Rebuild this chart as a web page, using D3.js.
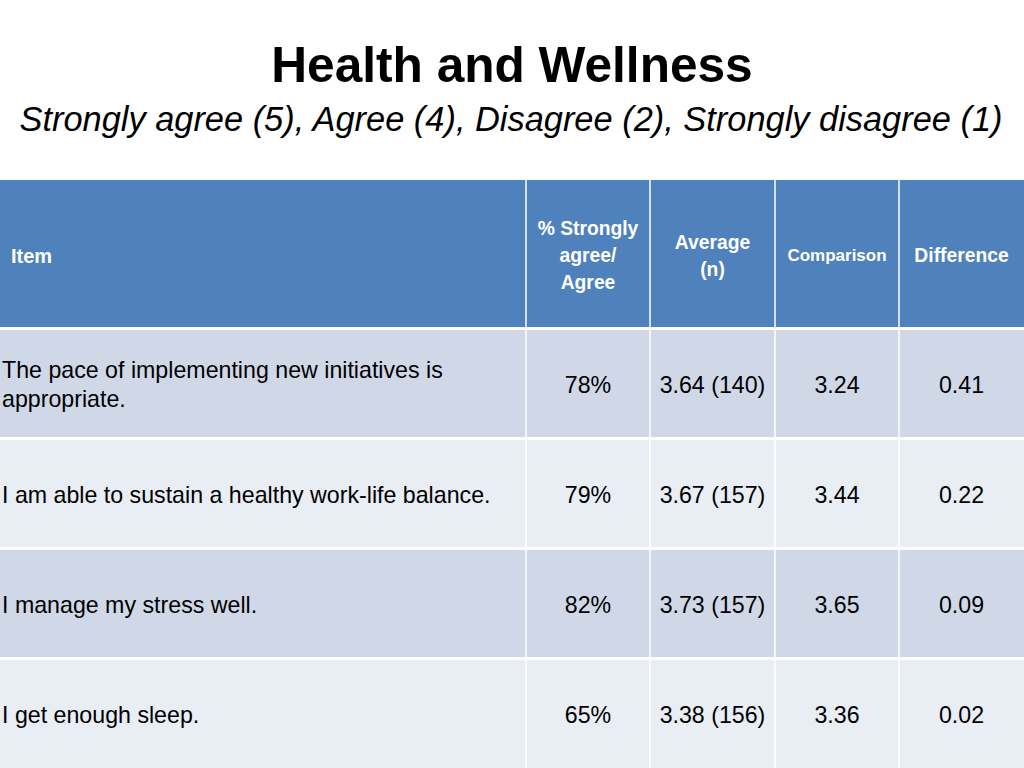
<!DOCTYPE html>
<html><head><meta charset="utf-8">
<script src="https://cdn.jsdelivr.net/npm/d3@7"></script>
<style>body{margin:0;background:#fff}svg{display:block}</style>
</head><body>
<script>
const title = "Health and Wellness";
const subtitle = "Strongly agree (5), Agree (4), Disagree (2), Strongly disagree (1)";
const headers = [["Item"], ["% Strongly", "agree/", "Agree"], ["Average", "(n)"], ["Comparison"], ["Difference"]];
const items = [
  ["The pace of implementing new initiatives is", "appropriate."],
  ["I am able to sustain a healthy work-life balance."],
  ["I manage my stress well."],
  ["I get enough sleep."]
];
const pctAgree = ["78%", "79%", "82%", "65%"];
const averages = ["3.64 (140)", "3.67 (157)", "3.73 (157)", "3.38 (156)"];
const comparison = ["3.24", "3.44", "3.65", "3.36"];
const difference = ["0.41", "0.22", "0.09", "0.02"];

const W = 1024, H = 768;
const FONT = "'Liberation Sans', Arial, sans-serif";
const svg = d3.select("body").append("svg").attr("width", W).attr("height", H);

// title
svg.append("text").attr("x", 512).attr("y", 82).attr("text-anchor", "middle")
  .attr("font-family", FONT).attr("font-weight", "bold").attr("font-size", 49.6).attr("fill", "#000").text(title);
svg.append("text").attr("x", 511).attr("y", 131).attr("text-anchor", "middle")
  .attr("font-family", FONT).attr("font-style", "italic").attr("font-size", 34.4).attr("fill", "#000").text(subtitle);

// column positions
const colEdges = [0, 526, 650, 775, 899, 1024];
const x = i => colEdges[i];
const rowsKeys = ["h", 0, 1, 2, 3];
const y = d3.scaleOrdinal().domain(rowsKeys).range([180, 330, 440, 550, 660]);
const yEnd = {"h": 327, 0: 437, 1: 547, 2: 657, 3: 768};

const fills = ["#D0D8E8", "#E9EDF4", "#D0D8E8", "#E9EDF4"];

// header
for (let c = 0; c < 5; c++) {
  svg.append("rect").attr("x", x(c)).attr("y", y("h")).attr("width", x(c+1) - x(c)).attr("height", yEnd["h"] - y("h")).attr("fill", "#4F81BD");
}
const hcy = (y("h") + yEnd["h"]) / 2 + 2;
headers.forEach((lines, c) => {
  const fs = c === 3 ? 17 : (c === 0 ? 20 : 19.3);
  const lh = 27;
  const cx = c === 0 ? 11 : (x(c) + x(c+1)) / 2;
  const t = svg.append("text").attr("font-family", FONT).attr("font-weight", "bold").attr("font-size", fs)
    .attr("fill", "#fff").attr("text-anchor", c === 0 ? "start" : "middle");
  lines.forEach((l, i) => {
    t.append("tspan").attr("x", cx).attr("y", hcy + (i - (lines.length - 1) / 2) * lh).attr("dy", "0.35em").text(l);
  });
});

// body rows
items.forEach((lines, r) => {
  const cells = [lines, [pctAgree[r]], [averages[r]], [comparison[r]], [difference[r]]];
  const cy = (y(r) + yEnd[r]) / 2;
  cells.forEach((cl, c) => {
    svg.append("rect").attr("x", x(c)).attr("y", y(r)).attr("width", x(c+1) - x(c)).attr("height", yEnd[r] - y(r)).attr("fill", fills[r]);
    const cx = c === 0 ? 2 : (x(c) + x(c+1)) / 2;
    const t = svg.append("text").attr("font-family", FONT).attr("font-size", 23.2).attr("fill", "#000")
      .attr("text-anchor", c === 0 ? "start" : "middle");
    cl.forEach((l, i) => {
      t.append("tspan").attr("x", cx).attr("y", cy + 1 + (i - (cl.length - 1) / 2) * 29).attr("dy", "0.35em").text(l);
    });
  });
});
// column separators (white)
for (let c = 1; c < 5; c++) {
  svg.append("line").attr("x1", x(c)).attr("x2", x(c)).attr("y1", 180).attr("y2", 768).attr("stroke", "#fff").attr("stroke-width", 1.5);
}
</script>
</body></html>
